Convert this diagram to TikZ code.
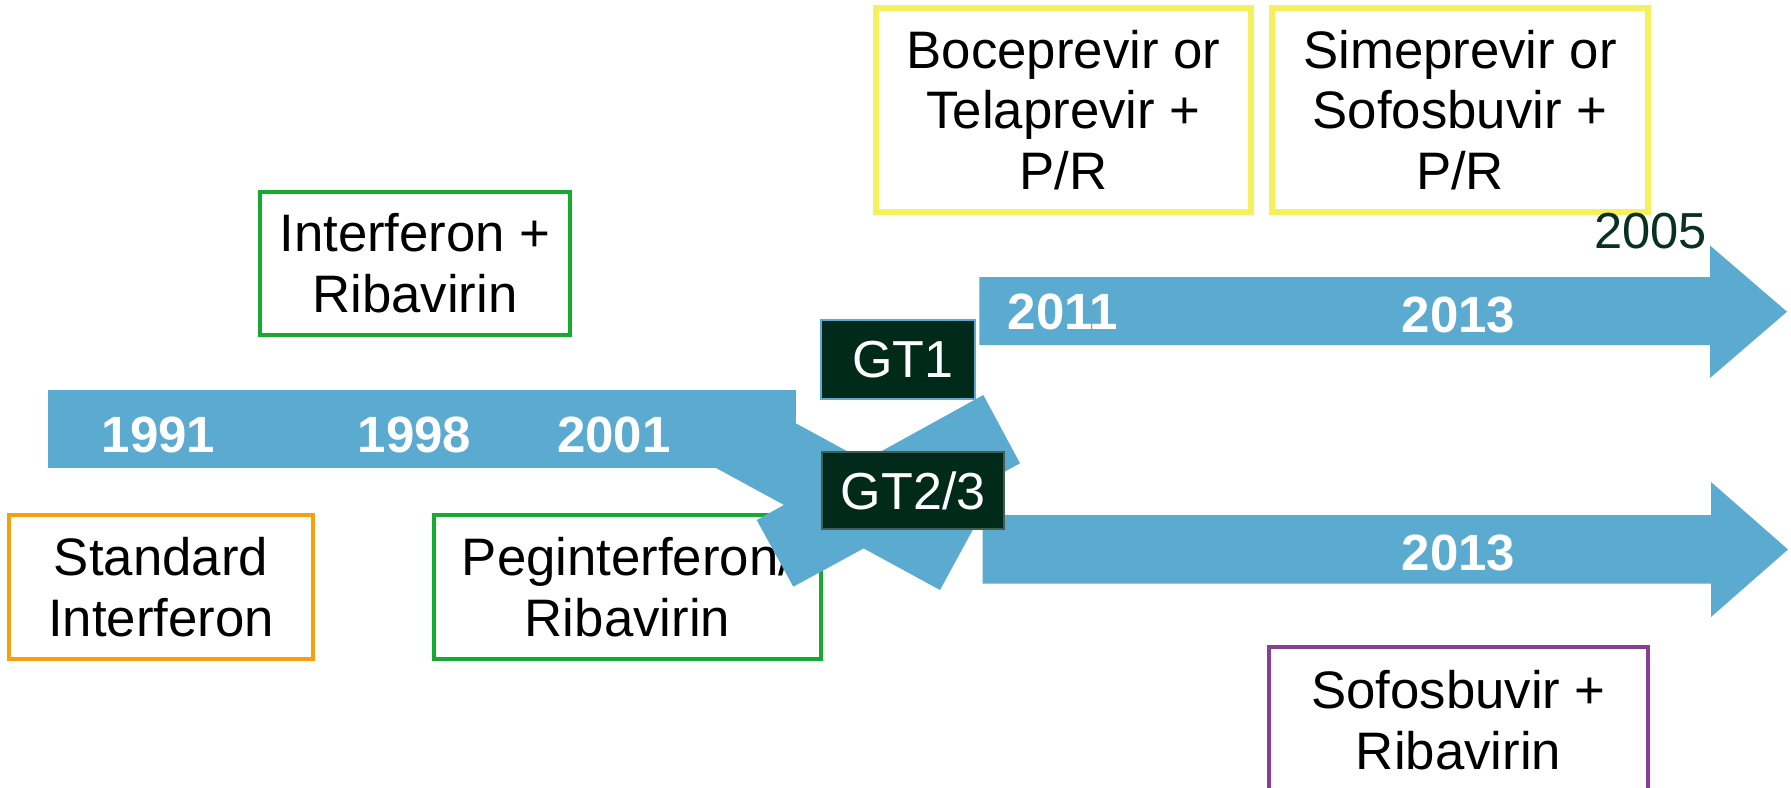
\documentclass[tikz,border=0pt]{standalone}
\usepackage{fontspec}
\setmainfont{Liberation Sans}
\usetikzlibrary{positioning}
\definecolor{band}{RGB}{91,170,207}
\definecolor{gtdark}{RGB}{2,42,26}
\definecolor{boxyellow}{RGB}{246,240,90}
\definecolor{boxgreen}{RGB}{22,170,46}
\definecolor{boxorange}{RGB}{245,160,12}
\definecolor{boxpurple}{RGB}{136,62,148}
\definecolor{yeargreen}{RGB}{8,50,30}
\newcommand{\drugfont}{\fontsize{15}{17.3}\selectfont}
\newcommand{\yearfont}{\fontsize{14.5}{17}\selectfont\bfseries}
\newcommand{\gtfont}{\fontsize{14.8}{17}\selectfont}

\begin{document}
\begin{tikzpicture}[x=0.01cm, y=-0.01cm,
    drug/.style={draw, line width=1.3pt, align=center, font=\drugfont, inner sep=0pt},
    year/.style={text=white, font=\yearfont, inner sep=0pt},
    gtbox/.style={fill=gtdark, line width=0.6pt, text=white, font=\gtfont, inner sep=0pt}]
    \useasboundingbox (0,0) rectangle (1791,788);
    \clip (0,0) rectangle (1791,788);

    \node[drug, draw=boxorange, minimum width=3.04cm, minimum height=1.44cm] (standard) at (161,587) {Standard\\Interferon};
    \node[drug, draw=boxgreen, minimum width=3.87cm, minimum height=1.44cm] (pegribav) at (627.5,587) {Peginterferon/\\Ribavirin};
    \node[drug, draw=boxgreen, minimum width=3.10cm, minimum height=1.43cm] (ifnribav) at (415,263.5) {Interferon +\\Ribavirin};
    \node[drug, draw=boxyellow, line width=1.5pt, minimum width=3.75cm, minimum height=2.04cm] (bocetela) at (1063.5,110) {Boceprevir or\\Telaprevir +\\P/R};
    \node[drug, draw=boxyellow, line width=1.5pt, minimum width=3.76cm, minimum height=2.04cm] (simesofo) at (1460,110) {Simeprevir or\\Sofosbuvir +\\P/R};
    \node[drug, draw=boxpurple, minimum width=3.79cm, minimum height=1.46cm] (soforibav) at (1458.5,720) {Sofosbuvir +\\Ribavirin};

    \fill[band] (48,390) rectangle (796,468);
    \fill[band] (707.3,463.2) -- (940,590) -- (977,522) -- (744.3,395.2) -- cycle;
    \fill[band] (756.7,520) -- (983.3,395) -- (1020,463.3) -- (793.3,586.7) -- cycle;
    \fill[band] (979.4,277) -- (1710,277) -- (1710,245.5) -- (1787,311.7) -- (1710,378) -- (1710,345) -- (979.4,345) -- cycle;
    \fill[band] (982.7,515) -- (1711,515) -- (1711,482) -- (1788,549.5) -- (1711,617) -- (1711,583.5) -- (982.7,583.5) -- cycle;

    \node[gtbox, draw=band, minimum width=1.546cm, minimum height=0.793cm] (gtone) at (898,359.7) {\hspace{0.1cm}GT1};
    \node[gtbox, draw=gtdark!75!white, minimum width=1.817cm, minimum height=0.776cm] (gttwothree) at (913.2,490.5) {GT2/3};

    \node[year] (y1991) at (158.5,434.5) {1991};
    \node[year] (y1998) at (414.6,434.5) {1998};
    \node[year] (y2001) at (613.8,434.5) {2001};
    \node[year] (y2011) at (1063,311.7) {2011};
    \node[year] (y2013a) at (1458.5,315) {2013};
    \node[year] (y2013b) at (1458.5,553.3) {2013};
    \node[text=yeargreen, font=\fontsize{14.4}{17}\selectfont, inner sep=0pt] (y2005) at (1650.5,230.8) {2005};
\end{tikzpicture}
\end{document}
